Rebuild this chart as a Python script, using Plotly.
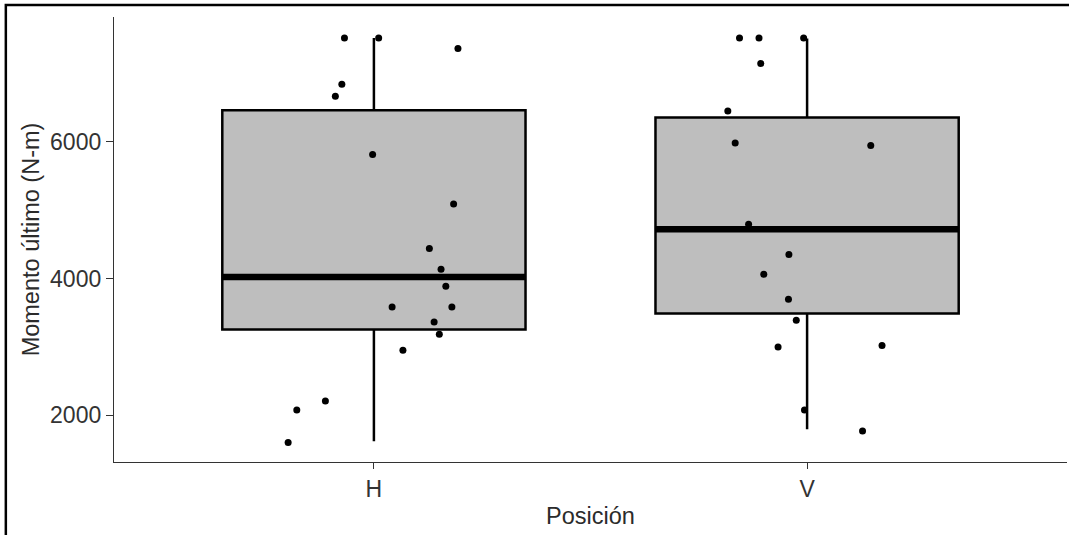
import plotly.graph_objects as go

# ---- data ----
categories = ["H", "V"]
cat_pos = [1, 2]

# box statistics (as drawn)
box_q1 = [3251, 3486]
box_median = [4022, 4721]
box_q3 = [6464, 6358]
box_lower = [1615, 1790]
box_upper = [7524, 7515]

# jittered points: horizontal jitter offset (category units) and value
h_jitter = [-0.068, 0.011, 0.194, -0.074, -0.089, -0.003, 0.184, 0.128, 0.155,
            0.166, 0.042, 0.180, 0.139, 0.151, 0.067, -0.112, -0.178, -0.198]
h_values = [7524, 7524, 7368, 6845, 6670, 5815, 5092, 4438, 4135,
            3886, 3582, 3582, 3363, 3182, 2948, 2205, 2073, 1596]

v_jitter = [-0.156, -0.111, -0.008, -0.107, -0.183, -0.166, 0.147, -0.135,
            -0.042, -0.100, -0.043, -0.025, -0.067, 0.173, -0.006, 0.128]
v_values = [7524, 7524, 7524, 7149, 6454, 5985, 5947, 4794,
            4350, 4061, 3695, 3388, 2996, 3017, 2073, 1766]

y_ticks = [2000, 4000, 6000]
y_range = [1312, 7830]

BOX_WIDTH = 0.7
FONT = "Liberation Sans, Arial, sans-serif"

fig = go.Figure()

fig.add_trace(go.Box(
    x=cat_pos, q1=box_q1, median=box_median, q3=box_q3,
    lowerfence=box_lower, upperfence=box_upper,
    width=BOX_WIDTH, whiskerwidth=0, boxpoints=False,
    fillcolor="#BEBEBE", line=dict(color="black", width=2.5),
    hoverinfo="skip", showlegend=False,
))

# thick median lines
mx, my = [], []
for c, m in zip(cat_pos, box_median):
    mx += [c - BOX_WIDTH / 2, c + BOX_WIDTH / 2, None]
    my += [m, m, None]
fig.add_trace(go.Scatter(
    x=mx, y=my, mode="lines", line=dict(color="black", width=6.5),
    hoverinfo="skip", showlegend=False,
))

px_ = [cat_pos[0] + j for j in h_jitter] + [cat_pos[1] + j for j in v_jitter]
py_ = h_values + v_values
fig.add_trace(go.Scatter(
    x=px_, y=py_, mode="markers",
    marker=dict(color="black", size=7, line=dict(width=0)),
    hoverinfo="skip", showlegend=False,
))

fig.update_layout(
    width=1069, height=535,
    margin=dict(l=114, r=2, t=17, b=73),
    paper_bgcolor="white", plot_bgcolor="white",
    font=dict(family=FONT, size=23, color="#333333"),
    hovermode=False,
    xaxis=dict(
        range=[0.4, 2.6], tickmode="array", tickvals=cat_pos, ticktext=categories,
        showline=True, linecolor="#333333", linewidth=1.3,
        ticks="outside", ticklen=6, tickwidth=1.3, tickcolor="#333333",
        showgrid=False, zeroline=False,
        tickfont=dict(size=23, color="#333333"),
        title=dict(text="Posición", font=dict(size=23.5, color="#2b2b2b"), standoff=6),
    ),
    yaxis=dict(
        range=y_range, tickmode="array", tickvals=y_ticks,
        ticktext=[str(t) for t in y_ticks],
        showline=True, linecolor="#333333", linewidth=1.3,
        ticks="outside", ticklen=7, tickwidth=1.3, tickcolor="#333333",
        showgrid=False, zeroline=False,
        tickfont=dict(size=23, color="#333333"),
        title=dict(text="Momento último (N-m)", font=dict(size=23.5, color="#2b2b2b"), standoff=3),
    ),
    shapes=[dict(
        type="rect", xref="paper", yref="paper",
        x0=-0.1135, x1=1.01, y0=-0.2, y1=1.027,
        line=dict(color="black", width=2.5), fillcolor="rgba(0,0,0,0)", layer="above",
    )],
)

fig.write_html("out.html", config={"displayModeBar": False})
